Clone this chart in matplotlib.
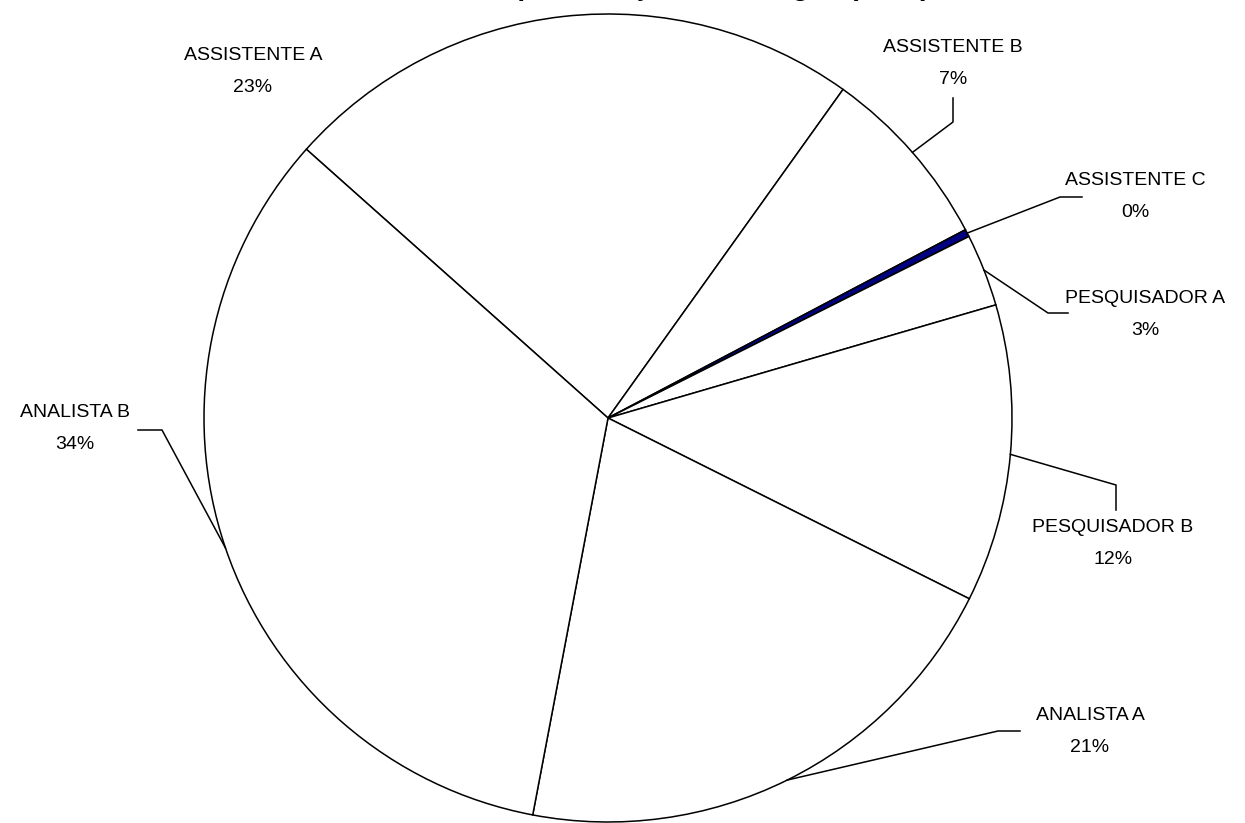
import numpy as np
import matplotlib
matplotlib.use("Agg")
import matplotlib.pyplot as plt

# ---- data ----
categories = ["ASSISTENTE A", "ASSISTENTE B", "ASSISTENTE C", "PESQUISADOR A",
              "PESQUISADOR B", "ANALISTA A", "ANALISTA B"]
shares = [23.3, 7.4, 0.3, 2.9, 11.9, 20.6, 33.6]
title_text = "Representação dos Cargos (2005)"

# ---- style / layout ----
colors = ["white", "white", "#000080", "white", "white", "white", "white"]
W, H = 1245, 823
cx, cy, R = 608, H - 418, 404
start = 138.3

# label positions (image pixel coords: name centre)
label_pos = {
    "ASSISTENTE A": (253, 55),
    "ASSISTENTE B": (953, 47),
    "ASSISTENTE C": (1135, 180),
    "PESQUISADOR A": (1145, 298),
    "PESQUISADOR B": (1113, 527),
    "ANALISTA A": (1090, 715),
    "ANALISTA B": (75, 412),
}
# leader polyline elbows (image coords): elbow, end near label
leaders = {
    "ASSISTENTE B": [(953, 122), (953, 98)],
    "ASSISTENTE C": [(1060, 197), (1082, 197)],
    "PESQUISADOR A": [(1048, 313), (1068, 313)],
    "PESQUISADOR B": [(1116, 485), (1116, 510)],
    "ANALISTA A": [(998, 731), (1020, 731)],
    "ANALISTA B": [(162, 430), (138, 430)],
}

plt.rcParams["font.family"] = ["Liberation Sans", "DejaVu Sans"]
fig = plt.figure(figsize=(W / 100, H / 100), dpi=100)
ax = fig.add_axes([0, 0, 1, 1])
ax.axis("off")

wedges, _ = ax.pie(shares, colors=colors, startangle=start, counterclock=False,
                   center=(cx, cy), radius=R,
                   wedgeprops=dict(edgecolor="black", linewidth=1.1))
ax.set_xlim(0, W)
ax.set_ylim(0, H)
ax.set_aspect("auto")

total = sum(shares)
for w, name, v in zip(wedges, categories, shares):
    mid = np.deg2rad((w.theta1 + w.theta2) / 2)
    ax_pt = (cx + R * np.cos(mid), cy + R * np.sin(mid))
    lx, ly = label_pos[name]
    ax.text(lx, H - ly, name, ha="center", va="center", fontsize=14)
    ax.text(lx, H - ly - 32, f"{round(v / total * 100):.0f}%", ha="center",
            va="center", fontsize=14)
    if name in leaders:
        pts = [ax_pt] + [(x, H - y) for x, y in leaders[name]]
        xs, ys = zip(*pts)
        ax.plot(xs, ys, color="black", linewidth=1.1)

fig.text(930 / W, 1.0 + 5 / H, title_text, ha="right", va="baseline",
         fontsize=20, fontweight="bold")

fig.savefig("out.png", dpi=100, facecolor="white")
